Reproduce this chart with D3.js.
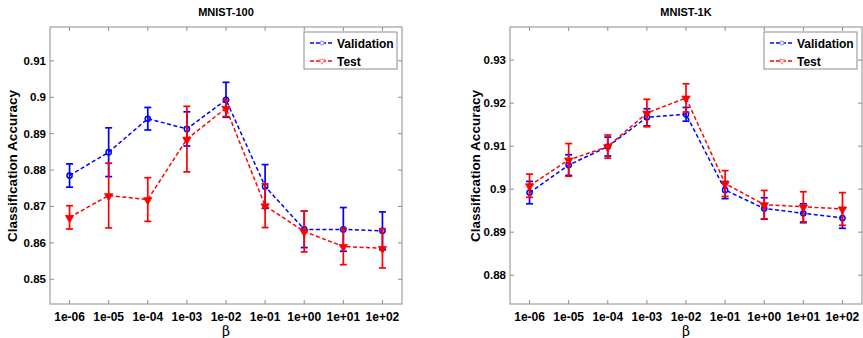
<!DOCTYPE html>
<html>
<head>
<meta charset="utf-8">
<script src="https://cdn.jsdelivr.net/npm/d3@7"></script>
<style>
  body { margin: 0; background: #fff; }
  svg { display: block; font-family: "Liberation Sans", Arial, sans-serif; }
</style>
</head>
<body>
<svg id="chart" width="863" height="338"></svg>
<script>
// beta values on the x axis
var betas = ["1e-06", "1e-05", "1e-04", "1e-03", "1e-02", "1e-01", "1e+00", "1e+01", "1e+02"];

// MNIST-100
var val100 = [0.8785, 0.8849, 0.8941, 0.8913, 0.8993, 0.8755, 0.8637, 0.8637, 0.8633];
var valErr100 = [0.0032, 0.0067, 0.0031, 0.0047, 0.0048, 0.0060, 0.0050, 0.0060, 0.0052];
var test100 = [0.8670, 0.8730, 0.8719, 0.8885, 0.8970, 0.8702, 0.8631, 0.8590, 0.8585];
var testErr100 = [0.0032, 0.0089, 0.0060, 0.0090, 0.0023, 0.0060, 0.0056, 0.0050, 0.0054];
var yTicks100 = [0.85, 0.86, 0.87, 0.88, 0.89, 0.9, 0.91];

// MNIST-1K
var val1k = [0.8992, 0.9056, 0.9099, 0.9167, 0.9174, 0.8998, 0.8955, 0.8944, 0.8933];
var valErr1k = [0.0026, 0.0024, 0.0022, 0.0020, 0.0016, 0.0020, 0.0025, 0.0022, 0.0024];
var test1k = [0.9008, 0.9068, 0.9099, 0.9177, 0.9212, 0.9013, 0.8964, 0.8959, 0.8954];
var testErr1k = [0.0027, 0.0038, 0.0027, 0.0032, 0.0033, 0.0030, 0.0033, 0.0035, 0.0038];
var yTicks1k = [0.88, 0.89, 0.9, 0.91, 0.92, 0.93];

var svg = d3.select("#chart");
var axisColor = "#8c8c8c";

function panel(opt) {
  var g = svg.append("g");
  var x = d3.scaleLinear().domain([0.5, betas.length + 0.5]).range([opt.left, opt.right]);
  var y = d3.scaleLinear().domain(opt.yDomain).range([304, 27]);

  // box
  g.append("rect")
    .attr("x", opt.left).attr("y", 27)
    .attr("width", opt.right - opt.left).attr("height", 277)
    .attr("fill", "none").attr("stroke", axisColor).attr("stroke-width", 1);

  // x ticks (inside, top and bottom)
  betas.forEach(function (b, i) {
    var xx = x(i + 1);
    g.append("line").attr("x1", xx).attr("x2", xx).attr("y1", 304).attr("y2", 300).attr("stroke", axisColor);
    g.append("line").attr("x1", xx).attr("x2", xx).attr("y1", 27).attr("y2", 31).attr("stroke", axisColor);
    g.append("text").attr("x", xx).attr("y", 321)
      .attr("text-anchor", "middle").attr("font-size", 12).attr("font-weight", "bold")
      .text(b);
  });

  // y ticks (inside, left and right)
  opt.yTicks.forEach(function (t) {
    var yy = y(t);
    g.append("line").attr("x1", opt.left).attr("x2", opt.left + 4).attr("y1", yy).attr("y2", yy).attr("stroke", axisColor);
    g.append("line").attr("x1", opt.right).attr("x2", opt.right - 4).attr("y1", yy).attr("y2", yy).attr("stroke", axisColor);
    g.append("text").attr("x", opt.left - 4).attr("y", yy + 4)
      .attr("text-anchor", "end").attr("font-size", 11.5).attr("font-weight", "bold")
      .text(d3.format("")(t));
  });

  g.append("text").attr("x", (opt.left + opt.right) / 2).attr("y", 16)
    .attr("text-anchor", "middle").attr("font-size", 11).attr("font-weight", "bold")
    .text(opt.title);

  g.append("text").attr("x", (opt.left + opt.right) / 2).attr("y", 336)
    .attr("text-anchor", "middle").attr("font-size", 14)
    .attr("font-family", "DejaVu Serif, serif")
    .text("β");

  g.append("text")
    .attr("transform", "translate(" + opt.yLabelX + ",166) rotate(-90)")
    .attr("text-anchor", "middle").attr("font-size", 13.5).attr("font-weight", "bold")
    .text("Classification Accuracy");

  var series = [
    { vals: opt.val, errs: opt.valErr, color: "#0000ff", marker: "circle" },
    { vals: opt.test, errs: opt.testErr, color: "#ff0000", marker: "tri" }
  ];

  var line = d3.line().x(function (d, i) { return x(i + 1); }).y(function (d) { return y(d); });
  var tri = d3.symbol().type(d3.symbolTriangle).size(30);

  series.forEach(function (s) {
    var sg = g.append("g");
    s.vals.forEach(function (v, i) {
      var xx = x(i + 1), y0 = y(v + s.errs[i]), y1 = y(v - s.errs[i]);
      sg.append("line").attr("x1", xx).attr("x2", xx).attr("y1", y0).attr("y2", y1)
        .attr("stroke", s.color).attr("stroke-width", 1.7);
      [y0, y1].forEach(function (yc) {
        sg.append("line").attr("x1", xx - 3.5).attr("x2", xx + 3.5).attr("y1", yc).attr("y2", yc)
          .attr("stroke", s.color).attr("stroke-width", 1.7);
      });
    });
    sg.append("path").datum(s.vals).attr("d", line)
      .attr("fill", "none").attr("stroke", s.color).attr("stroke-width", 1.5)
      .attr("stroke-dasharray", "4,2.5");
    s.vals.forEach(function (v, i) {
      if (s.marker === "circle") {
        sg.append("circle").attr("cx", x(i + 1)).attr("cy", y(v)).attr("r", 2.6)
          .attr("fill", "none").attr("stroke", s.color).attr("stroke-width", 1.5);
      } else {
        sg.append("path").attr("d", tri)
          .attr("transform", "translate(" + x(i + 1) + "," + (y(v) + 0.5) + ") rotate(180)")
          .attr("fill", s.color).attr("stroke", s.color).attr("stroke-width", 0.8);
      }
    });
  });

  // legend
  var lx = opt.right - 98, ly = 32;
  g.append("rect").attr("x", lx).attr("y", ly).attr("width", 93).attr("height", 37)
    .attr("fill", "#fff").attr("stroke", axisColor);
  [["Validation", "#0000ff", "circle"], ["Test", "#ff0000", "tri"]].forEach(function (d, i) {
    var yy = ly + 11 + i * 18;
    g.append("line").attr("x1", lx + 6).attr("x2", lx + 30).attr("y1", yy).attr("y2", yy)
      .attr("stroke", d[1]).attr("stroke-width", 1.5).attr("stroke-dasharray", "4,2");
    if (d[2] === "circle") {
      g.append("circle").attr("cx", lx + 18).attr("cy", yy).attr("r", 2)
        .attr("fill", "#fff").attr("stroke", "#8080ff").attr("stroke-width", 1);
    } else {
      g.append("path").attr("d", d3.symbol().type(d3.symbolTriangle).size(14))
        .attr("transform", "translate(" + (lx + 18) + "," + yy + ") rotate(180)")
        .attr("fill", "#fff").attr("stroke", "#ff8080").attr("stroke-width", 1);
    }
    g.append("text").attr("x", lx + 33).attr("y", yy + 4.5)
      .attr("font-size", 12).attr("font-weight", "bold").text(d[0]);
  });
}

panel({
  title: "MNIST-100", left: 50, right: 402, yLabelX: 17,
  yDomain: [0.8432, 0.9193], yTicks: yTicks100,
  val: val100, valErr: valErr100, test: test100, testErr: testErr100
});

panel({
  title: "MNIST-1K", left: 510, right: 862, yLabelX: 480,
  yDomain: [0.8733, 0.9377], yTicks: yTicks1k,
  val: val1k, valErr: valErr1k, test: test1k, testErr: testErr1k
});
</script>
</body>
</html>
